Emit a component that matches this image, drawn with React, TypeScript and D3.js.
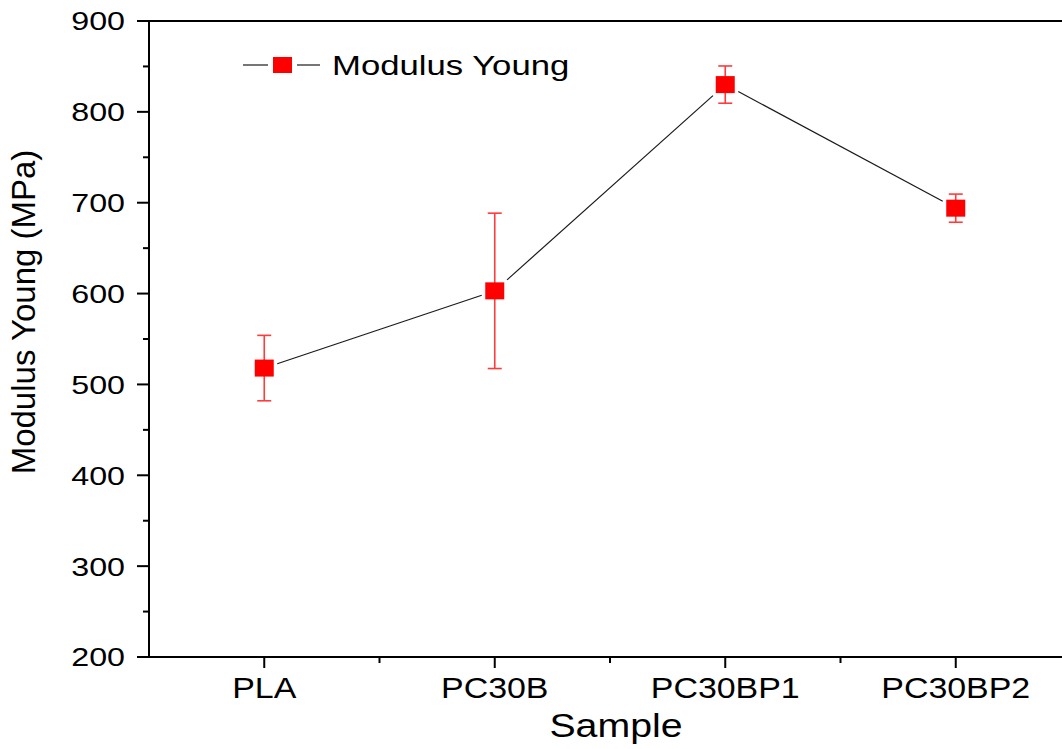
import React from 'react';
import { scaleLinear, scalePoint, range, line } from 'd3';

// data
const samples = ['PLA', 'PC30B', 'PC30BP1', 'PC30BP2'];
const modulus = [518, 603, 830, 694];
const modulusErr = [36, 85.5, 20.5, 15.5];
const yTicks = [200, 300, 400, 500, 600, 700, 800, 900];
const yMinorTicks = [250, 350, 450, 550, 650, 750, 850];

const W = 1062;
const H = 749;
const left = 149;
const right = 1071; // frame runs past the visible edge, like the original
const top = 21;
const bottom = 657;
const font = '"Liberation Sans", Arial, sans-serif';

const App = () => {
  const x = scalePoint<string>().domain(samples).range([left, right]).padding(0.5);
  const y = scaleLinear().domain([200, 900]).range([bottom, top]);

  const pts = samples.map((s, i) => ({ x: x(s) as number, y: y(modulus[i]) }));
  const xMinor = range(1, samples.length).map(i => ((x(samples[i - 1]) as number) + (x(samples[i]) as number)) / 2);

  // connecting line stops short of the markers (Origin-style gap)
  const hw = 13, hh = 11;
  const segs = pts.slice(1).map((p1, i) => {
    const p0 = pts[i];
    const dx = p1.x - p0.x, dy = p1.y - p0.y;
    const len = Math.hypot(dx, dy);
    const ux = dx / len, uy = dy / len;
    const s = Math.min(hw / Math.abs(ux || 1e-9), hh / Math.abs(uy || 1e-9));
    return line()([[p0.x + ux * s, p0.y + uy * s], [p1.x - ux * s, p1.y - uy * s]]);
  });

  const mw = 19, mh = 17;
  const red = '#ff0000';
  const errRed = '#ff3b3b';

  return (
    <svg width={W} height={H} style={{ position: 'absolute', left: 0, top: 0, background: '#fff' }}
      fontFamily={font}>
      {/* frame */}
      <rect x={left} y={top} width={right - left} height={bottom - top} fill="none" stroke="#000" strokeWidth={2} />

      {/* y axis ticks */}
      {yTicks.map(t => (
        <g key={t}>
          <line x1={left - 12} x2={left} y1={y(t)} y2={y(t)} stroke="#000" strokeWidth={2} />
          <text transform={`translate(${left - 24},${y(t)}) scale(1.24,1)`} textAnchor="end" dy="0.36em"
            fontSize={26} fill="#000">{t}</text>
        </g>
      ))}
      {yMinorTicks.map(t => (
        <line key={t} x1={left - 6} x2={left} y1={y(t)} y2={y(t)} stroke="#000" strokeWidth={2} />
      ))}

      {/* x axis ticks */}
      {samples.map(s => (
        <g key={s}>
          <line x1={x(s)} x2={x(s)} y1={bottom} y2={bottom + 11} stroke="#000" strokeWidth={2} />
          <text transform={`translate(${x(s)},${bottom + 41}) scale(1.17,1)`} textAnchor="middle"
            fontSize={29} fill="#000">{s}</text>
        </g>
      ))}
      {xMinor.map(v => (
        <line key={v} x1={v} x2={v} y1={bottom} y2={bottom + 6} stroke="#000" strokeWidth={2} />
      ))}

      {/* axis titles */}
      <text transform={`translate(616,737) scale(1.19,1)`} textAnchor="middle" fontSize={33} fill="#000">Sample</text>
      <text transform={`translate(35,312) rotate(-90)`} textAnchor="middle" fontSize={33} fill="#000">Modulus Young (MPa)</text>

      {/* connecting line */}
      {segs.map((d, i) => (
        <path key={i} d={d || ''} fill="none" stroke="#1a1a1a" strokeWidth={1.2} />
      ))}

      {/* error bars */}
      {samples.map((s, i) => {
        const cx = x(s) as number;
        const y1 = y(modulus[i] + modulusErr[i]);
        const y2 = y(modulus[i] - modulusErr[i]);
        return (
          <g key={s} stroke={errRed} strokeWidth={1.6}>
            <line x1={cx} x2={cx} y1={y1} y2={y2} />
            <line x1={cx - 7} x2={cx + 7} y1={y1} y2={y1} />
            <line x1={cx - 7} x2={cx + 7} y1={y2} y2={y2} />
          </g>
        );
      })}

      {/* markers */}
      {pts.map((p, i) => (
        <rect key={i} x={p.x - mw / 2} y={p.y - mh / 2} width={mw} height={mh} fill={red} />
      ))}

      {/* legend */}
      <g>
        <line x1={243} x2={268} y1={65} y2={65} stroke="#1a1a1a" strokeWidth={1.2} />
        <line x1={297} x2={320} y1={65} y2={65} stroke="#1a1a1a" strokeWidth={1.2} />
        <rect x={273} y={57} width={19} height={16} fill={red} />
        <text transform={`translate(332,75) scale(1.24,1)`} fontSize={28} fill="#000">Modulus Young</text>
      </g>
    </svg>
  );
};

export default App;
